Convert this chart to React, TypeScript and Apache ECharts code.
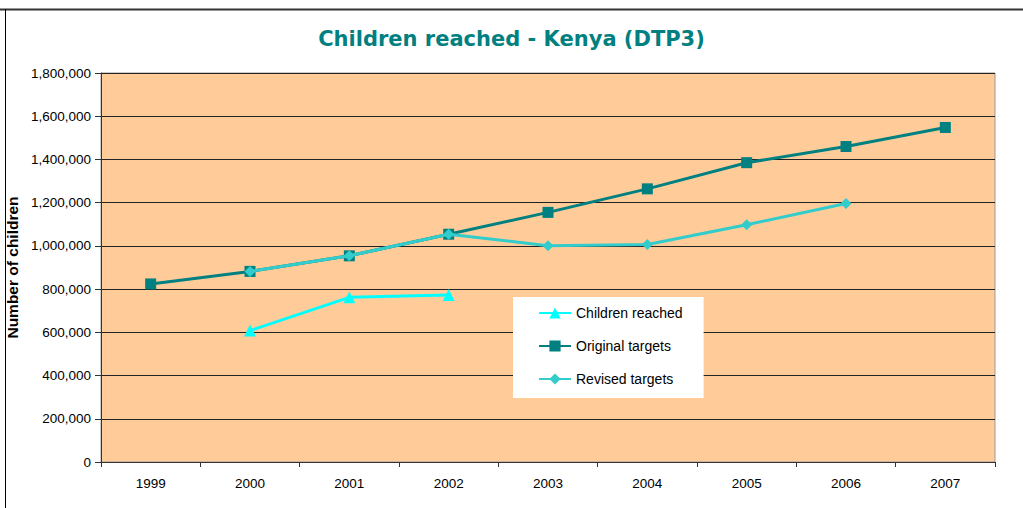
import React, { useEffect, useRef } from "react";
import * as echarts from "echarts";

const years = ["1999", "2000", "2001", "2002", "2003", "2004", "2005", "2006", "2007"];
const childrenReached = [null, 608000, 762000, 773000, null, null, null, null, null];
const originalTargets = [824000, 882000, 954000, 1054000, 1155000, 1264000, 1385000, 1460000, 1548000];
const revisedTargets = [null, 882000, 954000, 1054000, 1001000, 1006000, 1098000, 1196000, null];

const TEAL = "#008080";
const CYAN = "#00FFFF";
const REVISED = "#33CCCC";
const FONT = "Liberation Sans, Arial, sans-serif";

export default function App() {
  const ref = useRef<HTMLDivElement>(null);
  useEffect(() => {
    if (!ref.current) return;
    const chart = echarts.init(ref.current, null, { renderer: "svg" });
    chart.setOption({
      animation: false,
      backgroundColor: "#ffffff",
      textStyle: { fontFamily: FONT },
      title: {
        text: "Children reached - Kenya (DTP3)",
        left: "center",
        top: 23,
        textStyle: { color: TEAL, fontSize: 21, fontWeight: "bold", fontFamily: "DejaVu Sans, Verdana, sans-serif" },
      },
      graphic: [
        { type: "line", shape: { x1: 0, y1: 9.5, x2: 1023, y2: 9.5 }, style: { stroke: "#333", lineWidth: 2 } },
        { type: "line", shape: { x1: 5.5, y1: 9, x2: 5.5, y2: 508 }, style: { stroke: "#000", lineWidth: 1 } },
      ],
      legend: {
        orient: "vertical",
        left: 513,
        top: 297,
        backgroundColor: "#ffffff",
        padding: [9, 21, 12, 25],
        itemGap: 19,
        itemWidth: 32,
        itemHeight: 14,
        textStyle: { fontSize: 14, color: "#000", fontFamily: FONT },
        data: ["Children reached", "Original targets", "Revised targets"],
      },
      grid: {
        left: 101,
        right: 28,
        top: 73,
        bottom: 46,
        outerBoundsMode: "none",
        containLabel: false,
        show: true,
        backgroundColor: "#FFCC99",
        borderColor: "#999999",
        borderWidth: 1,
      },
      xAxis: {
        type: "category",
        data: years,
        boundaryGap: true,
        axisLine: { lineStyle: { color: "#333", width: 1 } },
        axisTick: { show: true, length: 5, lineStyle: { color: "#333" } },
        axisLabel: { fontSize: 13.5, color: "#000", margin: 14, fontFamily: FONT },
      },
      yAxis: {
        type: "value",
        min: 0,
        max: 1800000,
        interval: 200000,
        name: "Number of children",
        nameLocation: "middle",
        nameGap: 73,
        nameTextStyle: { fontSize: 15.5, fontWeight: "bold", color: "#000", fontFamily: FONT },
        axisLine: { show: true, lineStyle: { color: "#333" } },
        axisTick: { show: true, length: 6, lineStyle: { color: "#333" } },
        axisLabel: {
          fontSize: 13.5,
          color: "#000",
          margin: 10,
          fontFamily: FONT,
          formatter: (v: number) => v.toLocaleString("en-US"),
        },
        splitLine: { show: true, lineStyle: { color: "#222", width: 1 } },
      },
      series: [
        {
          name: "Children reached",
          type: "line",
          data: childrenReached,
          color: CYAN,
          lineStyle: { color: CYAN, width: 3 },
          itemStyle: { color: CYAN },
          symbol: "triangle",
          symbolSize: 12,
          z: 3,
        },
        {
          name: "Original targets",
          type: "line",
          data: originalTargets,
          color: TEAL,
          lineStyle: { color: TEAL, width: 3 },
          itemStyle: { color: TEAL },
          symbol: "rect",
          symbolSize: 11,
          z: 2,
        },
        {
          name: "Revised targets",
          type: "line",
          data: revisedTargets,
          color: REVISED,
          lineStyle: { color: REVISED, width: 3 },
          itemStyle: { color: REVISED },
          symbol: "diamond",
          symbolSize: 11,
          z: 4,
        },
      ],
    });
    return () => chart.dispose();
  }, []);
  return (
    <div
      ref={ref}
      style={{ position: "absolute", left: 0, top: 0, width: 1023, height: 508 }}
    />
  );
}
